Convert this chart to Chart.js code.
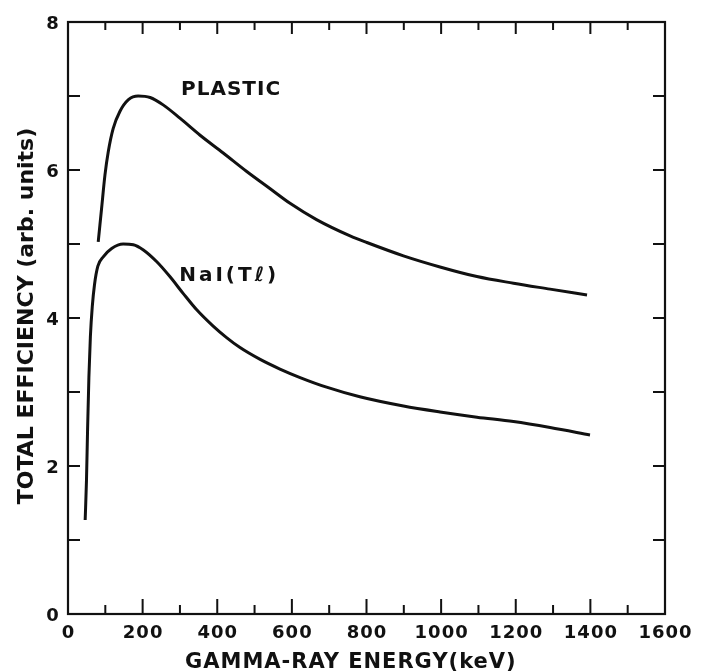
<!DOCTYPE html>
<html>
<head>
<meta charset="utf-8">
<script src="https://cdn.jsdelivr.net/npm/chart.js@4/dist/chart.umd.min.js"></script>
<style>
html,body{margin:0;padding:0;background:#fff;}
#wrap{width:702px;height:671px;position:relative;}
</style>
</head>
<body>
<div id="wrap"><canvas id="c" width="702" height="671"></canvas></div>
<script>
// Data
const plasticEnergy = [81, 90, 99, 108, 121, 139, 162, 188, 220, 255, 300, 354, 416, 479, 541, 595, 666, 756, 801, 899, 997, 1096, 1194, 1292, 1391];
const plasticEff    = [5.03, 5.48, 5.93, 6.25, 6.56, 6.79, 6.95, 7.00, 6.98, 6.88, 6.70, 6.47, 6.23, 5.98, 5.75, 5.55, 5.33, 5.11, 5.02, 4.84, 4.69, 4.56, 4.47, 4.39, 4.31];
const naiEnergy = [46, 49.5, 52.5, 56, 60, 65, 71, 80, 95, 117, 148, 175, 202, 238, 273, 309, 345, 389, 425, 461, 515, 568, 622, 693, 782, 899, 997, 1096, 1194, 1292, 1399];
const naiEff    = [1.27, 1.80, 2.50, 3.20, 3.75, 4.15, 4.45, 4.70, 4.83, 4.94, 5.00, 4.99, 4.92, 4.76, 4.56, 4.33, 4.11, 3.89, 3.735, 3.60, 3.44, 3.31, 3.195, 3.065, 2.935, 2.81, 2.73, 2.66, 2.60, 2.52, 2.42];
const xTickValues = [0, 200, 400, 600, 800, 1000, 1200, 1400, 1600];
const yTickValues = [0, 2, 4, 6, 8];
const curveLabels = [
  {text: 'PLASTIC', x: 437, y: 7.08, spacing: 1},
  {text: 'NaI(Tℓ)', x: 432, y: 4.57, spacing: 3}
];
const xTitle = 'GAMMA-RAY ENERGY(keV)';
const yTitle = 'TOTAL EFFICIENCY (arb. units)';

const FONT = '"DejaVu Sans", sans-serif';
const INK = '#111';

function toPts(xs, ys){ return xs.map((x,i)=>({x:x, y:ys[i]})); }

const drawFrame = {
  id: 'drawFrame',
  afterDatasetsDraw(chart){
    const ctx = chart.ctx, a = chart.chartArea;
    const xs = chart.scales.x, ys = chart.scales.y;
    ctx.save();
    ctx.strokeStyle = INK;
    ctx.lineWidth = 2;
    ctx.beginPath();
    for (let v = 100; v < 1600; v += 100) {
      const px = xs.getPixelForValue(v);
      const major = v % 200 === 0;
      const lb = major ? 15 : 9, lt = major ? 12 : 8;
      ctx.moveTo(px, a.bottom); ctx.lineTo(px, a.bottom - lb);
      ctx.moveTo(px, a.top); ctx.lineTo(px, a.top + lt);
    }
    for (let v = 1; v < 8; v++) {
      const py = ys.getPixelForValue(v);
      ctx.moveTo(a.left, py); ctx.lineTo(a.left + 12, py);
      ctx.moveTo(a.right, py); ctx.lineTo(a.right - 12, py);
    }
    ctx.stroke();
    ctx.lineWidth = 2.2;
    ctx.strokeRect(a.left, a.top, a.right - a.left, a.bottom - a.top);

    ctx.fillStyle = INK;
    // x tick labels
    ctx.font = 'bold 18px ' + FONT;
    ctx.textAlign = 'center';
    ctx.textBaseline = 'alphabetic';
    try { ctx.letterSpacing = '1px'; } catch(e) {}
    xTickValues.forEach(v => {
      ctx.fillText(String(v), xs.getPixelForValue(v) + 0.5, a.bottom + 24);
    });
    // y tick labels
    yTickValues.forEach(v => {
      ctx.fillText(String(v), a.left - 15, ys.getPixelForValue(v) + 6.5);
    });
    // x title
    ctx.font = 'bold 21px ' + FONT;
    ctx.textAlign = 'left';
    try { ctx.letterSpacing = '1px'; } catch(e) {}
    ctx.fillText(xTitle, 185, 668);
    // y title
    ctx.save();
    ctx.translate(33, 316);
    ctx.rotate(-Math.PI / 2);
    ctx.font = 'bold 22px ' + FONT;
    ctx.textAlign = 'center';
    try { ctx.letterSpacing = '0px'; } catch(e) {}
    ctx.fillText(yTitle, 0, 0);
    ctx.restore();
    // curve labels
    ctx.font = 'bold 20px ' + FONT;
    ctx.textAlign = 'center';
    ctx.textBaseline = 'middle';
    curveLabels.forEach(l => {
      try { ctx.letterSpacing = l.spacing + 'px'; } catch(e) {}
      ctx.fillText(l.text, xs.getPixelForValue(l.x), ys.getPixelForValue(l.y));
    });
    ctx.restore();
  }
};

new Chart(document.getElementById('c'), {
  type: 'scatter',
  data: {
    datasets: [
      {label: 'PLASTIC', data: toPts(plasticEnergy, plasticEff), showLine: true, borderColor: INK, borderWidth: 3, pointRadius: 0, cubicInterpolationMode: 'monotone', fill: false},
      {label: 'NaI(Tℓ)', data: toPts(naiEnergy, naiEff), showLine: true, borderColor: INK, borderWidth: 3, pointRadius: 0, cubicInterpolationMode: 'monotone', fill: false}
    ]
  },
  options: {
    responsive: false,
    animation: false,
    devicePixelRatio: 1,
    layout: {padding: {left: 0, top: 22, right: 37, bottom: 0}},
    plugins: {legend: {display: false}, tooltip: {enabled: false}},
    scales: {
      x: {
        type: 'linear', min: 0, max: 1600,
        afterFit: s => { s.height = 57; },
        grid: {display: false},
        border: {display: false},
        ticks: {display: false}
      },
      y: {
        type: 'linear', min: 0, max: 8,
        afterFit: s => { s.width = 68; },
        grid: {display: false},
        border: {display: false},
        ticks: {display: false}
      }
    }
  },
  plugins: [drawFrame]
});
</script>
</body>
</html>
